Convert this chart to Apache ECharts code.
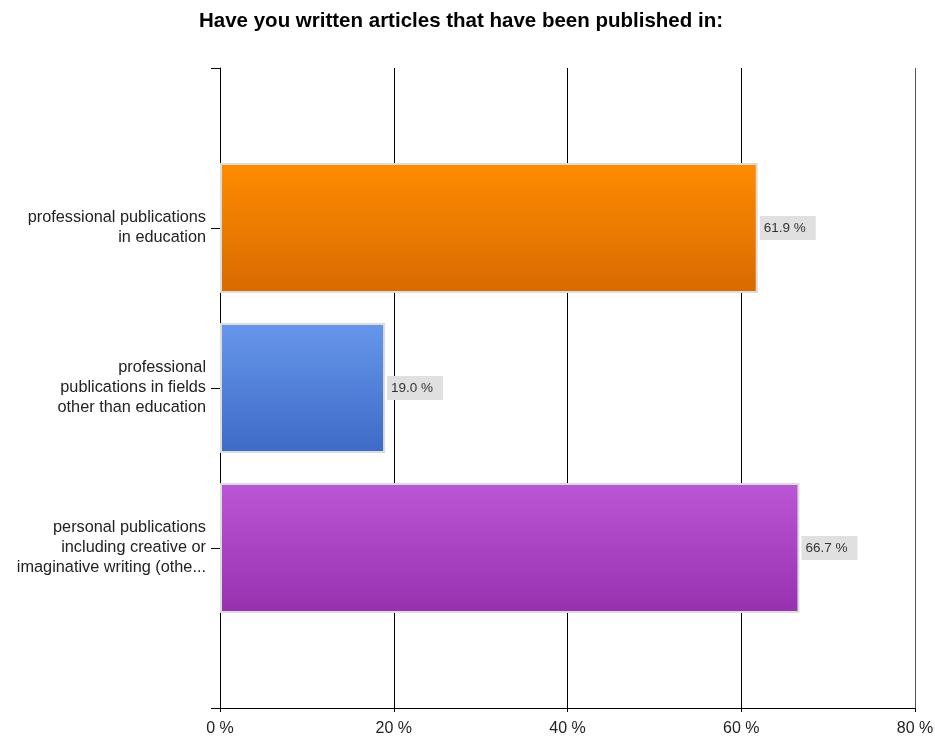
<!DOCTYPE html>
<html>
<head>
<meta charset="utf-8">
<script src="https://cdn.jsdelivr.net/npm/echarts@6/dist/echarts.min.js"></script>
<style>
  html, body { margin: 0; padding: 0; background: #fff; }
  #chart { width: 935px; height: 738px; }
</style>
</head>
<body>
<div id="chart"></div>
<script>
// Categories (top to bottom); empty slots pad the axis top and bottom
const categories = [
  "",
  "professional publications\nin education",
  "professional\npublications in fields\nother than education",
  "personal publications\nincluding creative or\nimaginative writing (othe...",
  ""
];
const values = ["-", 61.9, 19.0, 66.7, "-"];
const xTicks = [0, 20, 40, 60, 80];

// Bar gradients: [top, bottom]
const barColors = [
  null,
  ["#ff8c00", "#d86a00"],
  ["#6797ec", "#3d6ac6"],
  ["#bb56d6", "#9632ae"],
  null
];

const chart = echarts.init(document.getElementById("chart"));

const option = {
  animation: false,
  title: {
    text: "Have you written articles that have been published in:",
    left: 194,
    top: 6,
    textStyle: {
      fontFamily: "Liberation Sans",
      fontSize: 20.5,
      fontWeight: "bold",
      color: "#000"
    }
  },
  grid: {
    left: 220,
    right: 20,
    top: 68,
    bottom: 30,
    outerBoundsMode: "none"
  },
  xAxis: {
    type: "value",
    min: xTicks[0],
    max: xTicks[xTicks.length - 1],
    interval: 20,
    axisLine: { show: true, lineStyle: { color: "#000", width: 1 } },
    axisTick: { show: true, length: 4, lineStyle: { color: "#000" } },
    axisLabel: {
      formatter: "{value} %",
      fontFamily: "Liberation Sans",
      fontSize: 16,
      color: "#222",
      margin: 13,
      showMaxLabel: true
    },
    splitLine: {
      show: true,
      lineStyle: { color: ["#000", "#000", "#000", "#000", "#555"], width: 1 }
    }
  },
  yAxis: {
    type: "category",
    data: categories,
    inverse: true,
    boundaryGap: false,
    axisLine: { show: true, lineStyle: { color: "#000", width: 1 } },
    axisTick: { show: true, length: 9, lineStyle: { color: "#000" } },
    axisLabel: {
      fontFamily: "Liberation Sans",
      fontSize: 16.3,
      color: "#222",
      lineHeight: 20,
      margin: 14,
      align: "right"
    },
    splitLine: { show: false }
  },
  series: [
    {
      type: "bar",
      barWidth: 130,
      data: values.map((v, i) => ({
        value: v,
        itemStyle: barColors[i] ? {
          color: new echarts.graphic.LinearGradient(0, 0, 0, 1, [
            { offset: 0, color: barColors[i][0] },
            { offset: 1, color: barColors[i][1] }
          ]),
          borderColor: "#dcdcdc",
          borderWidth: 2
        } : {}
      })),
      label: {
        show: true,
        position: "right",
        distance: 2,
        formatter: (p) => p.value.toFixed(1) + " %",
        fontFamily: "Liberation Sans",
        fontSize: 13.5,
        color: "#333",
        backgroundColor: "#e0e0e0",
        padding: [5, 10, 5, 4]
      }
    }
  ]
};

chart.setOption(option);
</script>
</body>
</html>
